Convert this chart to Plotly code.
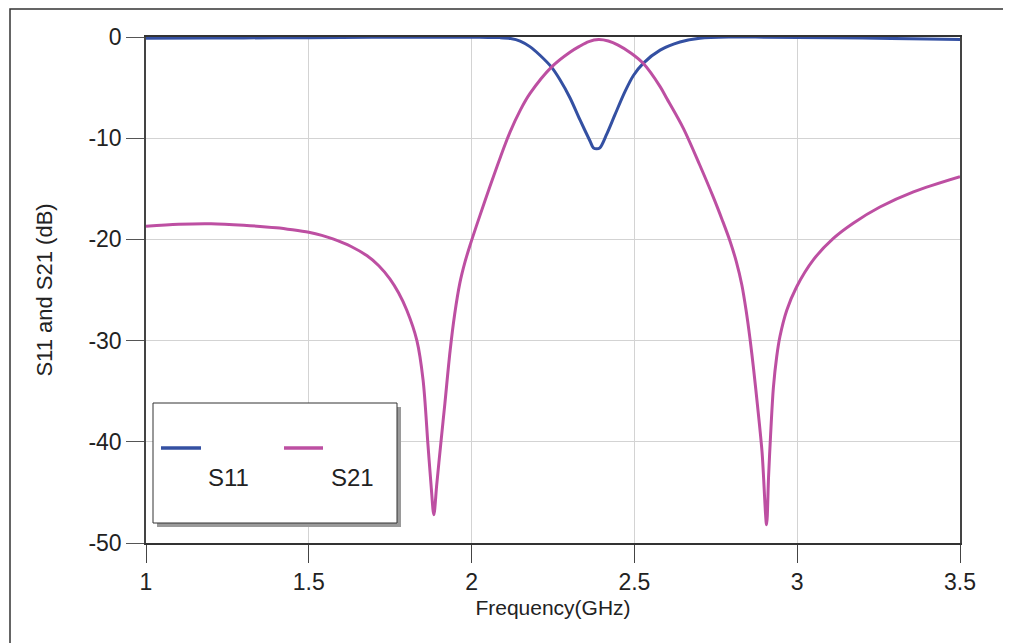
import plotly.graph_objects as go

# ---- data ----
freq_s11 = [1.0, 1.2, 1.4, 1.6, 1.8, 1.95, 2.0, 2.05, 2.087, 2.12, 2.149, 2.179, 2.21, 2.246,
            2.271, 2.302, 2.333, 2.364, 2.374, 2.384, 2.394, 2.415, 2.44, 2.471, 2.497, 2.527,
            2.579, 2.64, 2.701, 2.8, 2.9, 3.0, 3.2, 3.4, 3.5]
s11_db = [-0.12, -0.1, -0.08, -0.05, -0.02, -0.02, -0.03, -0.04, -0.06, -0.15, -0.4, -0.95, -1.8, -3.0,
          -4.2, -6.0, -8.2, -10.3, -10.95, -11.05, -10.95, -9.6, -7.7, -5.4, -3.8, -2.6,
          -1.3, -0.5, -0.12, 0.0, -0.02, -0.05, -0.1, -0.2, -0.25]

freq_s21 = [1.0, 1.1, 1.2, 1.3, 1.4, 1.45, 1.5, 1.54, 1.574, 1.63, 1.678, 1.715, 1.749, 1.776,
            1.801, 1.832, 1.851, 1.866, 1.876, 1.884, 1.893, 1.905, 1.918, 1.934, 1.948, 1.964,
            1.98, 1.995, 2.026, 2.056, 2.087, 2.118, 2.15, 2.179, 2.246, 2.302, 2.33, 2.36,
            2.39, 2.42, 2.45, 2.49, 2.527, 2.579, 2.60, 2.65, 2.70, 2.742, 2.77, 2.794,
            2.813, 2.830, 2.843, 2.855, 2.866, 2.878, 2.892, 2.906, 2.912, 2.918, 2.927, 2.937,
            2.947, 2.968, 2.998, 3.05, 3.111, 3.172, 3.254, 3.357, 3.5]
s21_db = [-18.7, -18.5, -18.45, -18.6, -18.85, -19.05, -19.3, -19.6, -19.95, -20.7, -21.6, -22.6, -23.9, -25.3,
          -27.0, -30.0, -33.9, -40.3, -44.5, -47.2, -44.2, -40.3, -36.2, -31.0, -27.4, -24.3,
          -22.2, -20.6, -17.6, -14.8, -12.0, -9.4, -7.2, -5.6, -2.95, -1.5, -0.95, -0.45,
          -0.25, -0.4, -0.8, -1.6, -2.6, -4.9, -6.1, -9.0, -12.6, -15.8, -18.1, -20.2,
          -22.2, -24.5, -27.0, -29.8, -32.8, -36.4, -41.0, -48.2, -43.5, -39.5, -34.6, -31.6,
          -29.6, -27.0, -24.7, -22.0, -19.9, -18.4, -16.8, -15.3, -13.8]

x_ticks = [1, 1.5, 2, 2.5, 3, 3.5]
x_tick_labels = ["1", "1.5", "2", "2.5", "3", "3.5"]
y_ticks = [0, -10, -20, -30, -40, -50]
y_tick_labels = ["0", "-10", "-20", "-30", "-40", "-50"]
series_names = ["S11", "S21"]

C_S11 = "#3450a2"
C_S21 = "#bd4fa2"
FONT = "Liberation Sans, Arial, sans-serif"

fig = go.Figure()
fig.add_trace(go.Scatter(x=freq_s11, y=s11_db, mode="lines", name=series_names[0],
                         line=dict(color=C_S11, width=3, shape="spline", smoothing=0.9),
                         showlegend=False))
fig.add_trace(go.Scatter(x=freq_s21, y=s21_db, mode="lines", name=series_names[1],
                         line=dict(color=C_S21, width=3, shape="spline", smoothing=0.9),
                         showlegend=False))

# page has an 8px body margin; reference pixel coords are shifted by OFF
OFF = 8
W, H = 1011 - OFF, 643 - OFF
L, R, T, B = 146 - OFF, 960 - OFF, 37 - OFF, 543 - OFF
pw, ph = R - L, B - T


def px(x):
    return (x - OFF - L) / pw


def py(y):
    return (B - (y - OFF)) / ph


shapes = []
# outer frame (cut off at right and bottom like the reference)
shapes.append(dict(type="rect", xref="paper", yref="paper", x0=px(10), x1=px(1040),
                   y0=py(670), y1=py(9), line=dict(color="#333333", width=1.5), layer="below"))
# legend shadow + box
shapes.append(dict(type="rect", xref="paper", yref="paper", x0=px(157), x1=px(401),
                   y0=py(527), y1=py(407), fillcolor="#9a9a9a", line=dict(width=0)))
shapes.append(dict(type="rect", xref="paper", yref="paper", x0=px(153), x1=px(397),
                   y0=py(523), y1=py(403), fillcolor="white", line=dict(color="#333333", width=1)))
# legend lines
shapes.append(dict(type="line", xref="paper", yref="paper", x0=px(161), x1=px(201),
                   y0=py(448), y1=py(448), line=dict(color=C_S11, width=3.5)))
shapes.append(dict(type="line", xref="paper", yref="paper", x0=px(284), x1=px(323),
                   y0=py(448), y1=py(448), line=dict(color=C_S21, width=3.5)))

annotations = [
    dict(text=series_names[0], xref="paper", yref="paper", x=px(228), y=py(477),
         showarrow=False, font=dict(family=FONT, size=24, color="#222222"),
         xanchor="center", yanchor="middle"),
    dict(text=series_names[1], xref="paper", yref="paper", x=px(352), y=py(477),
         showarrow=False, font=dict(family=FONT, size=24, color="#222222"),
         xanchor="center", yanchor="middle"),
]

fig.update_layout(
    width=W, height=H,
    margin=dict(l=L, r=W - R, t=T, b=H - B, pad=0),
    paper_bgcolor="white", plot_bgcolor="white",
    font=dict(family=FONT, size=22, color="#222222"),
    shapes=shapes, annotations=annotations,
    showlegend=False,
)
fig.update_xaxes(
    range=[1, 3.5], tickvals=x_ticks, ticktext=x_tick_labels,
    showgrid=True, gridcolor="#d3d3d3", gridwidth=1,
    showline=True, linecolor="#333333", linewidth=1.5, mirror=True,
    ticks="outside", ticklen=18, tickcolor="#444444", tickwidth=1.2,
    tickfont=dict(family=FONT, size=23, color="#222222"),
    title=dict(text="Frequency(GHz)", font=dict(family=FONT, size=21, color="#222222"), standoff=6),
    zeroline=False,
)
fig.update_yaxes(
    range=[-50, 0], tickvals=y_ticks, ticktext=y_tick_labels,
    showgrid=True, gridcolor="#d3d3d3", gridwidth=1,
    showline=True, linecolor="#444444", linewidth=1.5, mirror=True,
    ticks="outside", ticklen=18, tickcolor="#555555", tickwidth=1.2,
    tickfont=dict(family=FONT, size=23, color="#222222"),
    title=dict(text="S11 and S21 (dB)", font=dict(family=FONT, size=22, color="#222222"), standoff=30),
    zeroline=False,
)

fig.write_html("out.html")
